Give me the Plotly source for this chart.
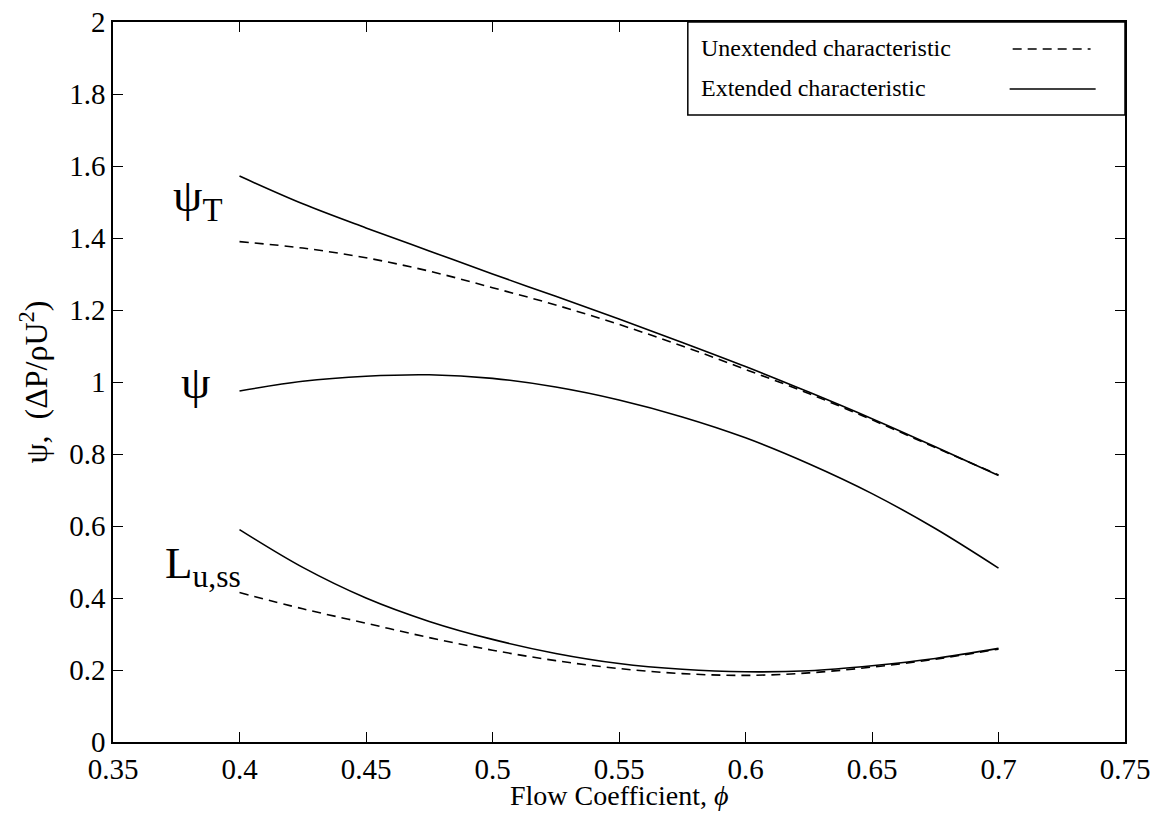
import plotly.graph_objects as go

phi = [0.4, 0.425, 0.45, 0.475, 0.5, 0.525, 0.55, 0.575, 0.6, 0.625, 0.65, 0.675, 0.7]

psiT_ext = [1.572, 1.495, 1.428, 1.364, 1.300, 1.238, 1.175, 1.110, 1.043, 0.972, 0.898, 0.820, 0.740]
psiT_unext = [1.390, 1.372, 1.345, 1.308, 1.262, 1.214, 1.160, 1.100, 1.035, 0.968, 0.895, 0.818, 0.742]
psi_ext = [0.975, 1.002, 1.016, 1.020, 1.010, 0.986, 0.950, 0.903, 0.845, 0.773, 0.690, 0.593, 0.483]
L_ext = [0.590, 0.485, 0.400, 0.335, 0.285, 0.246, 0.218, 0.202, 0.195, 0.198, 0.212, 0.232, 0.260]
L_unext = [0.415, 0.370, 0.330, 0.290, 0.255, 0.226, 0.204, 0.190, 0.185, 0.192, 0.208, 0.230, 0.258]

xticks = [0.35, 0.4, 0.45, 0.5, 0.55, 0.6, 0.65, 0.7, 0.75]
xticklabels = ["0.35", "0.4", "0.45", "0.5", "0.55", "0.6", "0.65", "0.7", "0.75"]
yticks = [0, 0.2, 0.4, 0.6, 0.8, 1.0, 1.2, 1.4, 1.6, 1.8, 2.0]
yticklabels = ["0", "0.2", "0.4", "0.6", "0.8", "1", "1.2", "1.4", "1.6", "1.8", "2"]

FONT = "Liberation Serif"
dash = "9px,6px"
lw = 1.6

fig = go.Figure()
for y, d in [(psiT_unext, dash), (L_unext, dash), (psiT_ext, "solid"), (psi_ext, "solid"), (L_ext, "solid")]:
    fig.add_trace(go.Scatter(x=phi, y=y, mode="lines", line=dict(color="black", width=lw, dash=d, shape="spline"),
                             showlegend=False, hoverinfo="skip"))

axis_common = dict(showline=True, linecolor="black", linewidth=1.5, mirror="ticks", ticks="inside",
                   ticklen=10, tickcolor="black", tickwidth=1.2, showgrid=False, zeroline=False,
                   automargin=False, tickfont=dict(family=FONT, size=29, color="black"))

fig.update_xaxes(range=[0.35, 0.75], tickvals=xticks, ticktext=xticklabels, ticklabelstandoff=0,
                 **axis_common)
fig.update_yaxes(range=[0, 2], tickvals=yticks, ticktext=yticklabels,
                 title=dict(text="ψ,  (ΔP/ρU<sup>2</sup>)", font=dict(family=FONT, size=32, color="black"), standoff=12),
                 **axis_common)

# x-axis title as annotation
fig.add_annotation(x=0.5, y=-0.099, xref="paper", yref="paper", yanchor="bottom", xanchor="center",
                   text="Flow Coefficient, <i>ϕ</i>", showarrow=False,
                   font=dict(family=FONT, size=28, color="black"))

# curve labels
fig.add_annotation(x=0.3835, y=1.51, xref="x", yref="y", text="ψ<sub>T</sub>", showarrow=False,
                   font=dict(family=FONT, size=47, color="black"))
fig.add_annotation(x=0.3825, y=1.0, xref="x", yref="y", text="ψ", showarrow=False,
                   font=dict(family=FONT, size=47, color="black"))
fig.add_annotation(x=0.3855, y=0.49, xref="x", yref="y", text="L<sub>u,ss</sub>", showarrow=False,
                   font=dict(family=FONT, size=45, color="black"))

# legend box drawn manually (text left, line sample right)
lx0, ly0 = 0.568, 0.871
fig.add_shape(type="rect", xref="paper", yref="paper", x0=lx0, x1=1.0, y0=ly0, y1=1.0,
              line=dict(color="black", width=1.5), fillcolor="white")
fig.add_annotation(x=lx0 + 0.011, y=0.9635, xref="paper", yref="paper", xanchor="left", yanchor="middle",
                   text="Unextended characteristic", showarrow=False, font=dict(family=FONT, size=24, color="black"))
fig.add_annotation(x=lx0 + 0.011, y=0.908, xref="paper", yref="paper", xanchor="left", yanchor="middle",
                   text="Extended characteristic", showarrow=False, font=dict(family=FONT, size=24, color="black"))
fig.add_shape(type="line", xref="paper", yref="paper", x0=0.889, x1=0.966, y0=0.9625, y1=0.9625,
              line=dict(color="black", width=lw, dash=dash))
fig.add_shape(type="line", xref="paper", yref="paper", x0=0.886, x1=0.971, y0=0.907, y1=0.907,
              line=dict(color="black", width=lw))

fig.update_layout(width=1160, height=816, margin=dict(l=113, r=35, t=22, b=74),
                  paper_bgcolor="white", plot_bgcolor="white",
                  font=dict(family=FONT, color="black"))

fig.write_html("out.html")
